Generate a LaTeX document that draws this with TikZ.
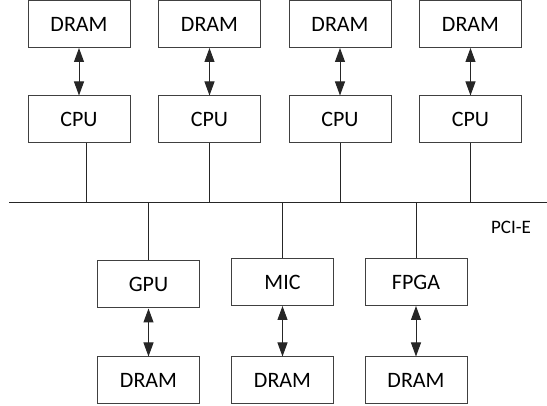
\documentclass[tikz,border=0pt]{standalone}
\usepackage{fontspec}
\setmainfont{Carlito}
\usetikzlibrary{arrows.meta}

\begin{document}
\begin{tikzpicture}[x=1pt, y=-1pt, font=\fontsize{22}{25}\selectfont,
  unit/.style={draw=black!75, line width=1pt, minimum width=102pt, minimum height=47pt, inner sep=0pt},
  link/.style={draw=black!85, line width=1pt},
  mem/.style={link, {Triangle[length=14pt,width=10pt]}-{Triangle[length=14pt,width=10pt]}}]
\useasboundingbox (0,0) rectangle (547,406);
\coordinate (busL) at (9,203);
\coordinate (busR) at (547,203);
\draw[link] (busL) -- (busR);
\foreach \x/\d [count=\i] in {79/7,209.5/0,340/0,470.5/0} {
  \node[unit] (dram\i) at (\x,24) {DRAM};
  \node[unit] (cpu\i) at (\x,119.5) {CPU};
  \draw[mem] (dram\i) -- (cpu\i);
  \draw[link] ([xshift=\d pt]cpu\i.south) -- ([xshift=\d pt]cpu\i.south |- busL);}
\foreach \name/\x/\y [count=\i] in {GPU/148.5/284.5,MIC/282.5/282,FPGA/416/282} {
  \node[unit] (acc\i) at (\x,\y) {\name};
  \node[unit] (mem\i) at (\x,380.5) {DRAM};
  \draw[mem] (acc\i) -- (mem\i);
  \draw[link] (acc\i.north) -- (acc\i.north |- busL);}
\node[font=\fontsize{19}{22}\selectfont] (pcie) at (511,227) {PCI-E};
\end{tikzpicture}
\end{document}
